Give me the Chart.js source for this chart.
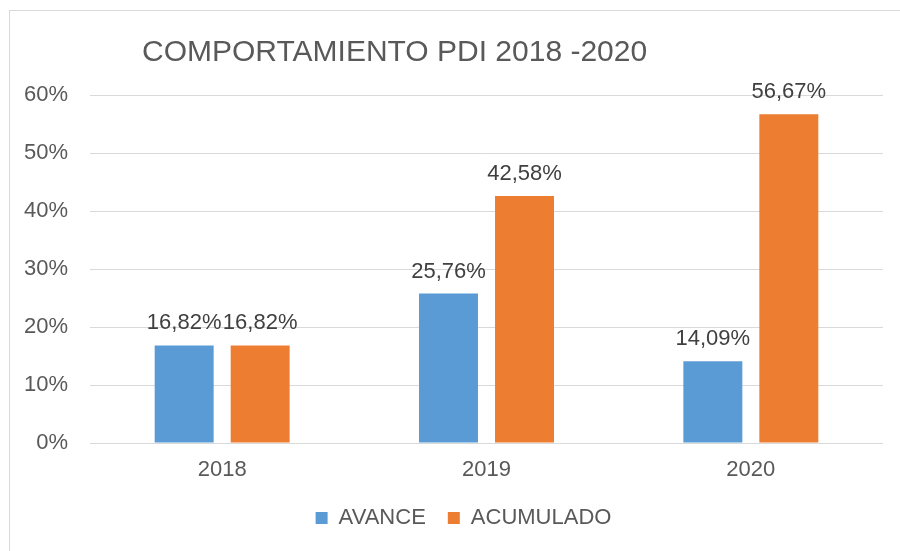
<!DOCTYPE html>
<html>
<head>
<meta charset="utf-8">
<script src="https://cdn.jsdelivr.net/npm/chart.js@4/dist/chart.umd.min.js"></script>
<style>
  html, body { margin: 0; padding: 0; background: #fff; overflow: hidden; }
  canvas { display: block; }
</style>
</head>
<body>
<canvas id="c" width="900" height="551"></canvas>
<script>
const categories = ['2018', '2019', '2020'];
const avance = [16.82, 25.76, 14.09];
const acumulado = [16.82, 42.58, 56.67];
const seriesNames = ['AVANCE', 'ACUMULADO'];
const titleText = 'COMPORTAMIENTO PDI 2018 -2020';
const yTicks = [0, 10, 20, 30, 40, 50, 60];

const FONT = "Arial, 'Liberation Sans', sans-serif";
const TEXT = '#595959';

const framePlugin = {
  id: 'frame',
  afterLayout(chart) {
    // shift the legend's box so it is centred like the original
    if (chart.legend) {
      chart.legend.left = 44;
      chart.legend.width = chart.legend.right - chart.legend.left;
    }
  },
  beforeDraw(chart) {
    const ctx = chart.ctx;
    ctx.save();
    ctx.fillStyle = '#ffffff';
    ctx.fillRect(0, 0, chart.width, chart.height);
    ctx.strokeStyle = '#d9d9d9';
    ctx.lineWidth = 1;
    ctx.strokeRect(9.5, 10.5, 1000, 1000);
    ctx.restore();
  },
  afterDraw(chart) {
    const ctx = chart.ctx;
    ctx.save();
    ctx.font = '30px ' + FONT;
    ctx.fillStyle = TEXT;
    ctx.textAlign = 'left';
    ctx.textBaseline = 'alphabetic';
    ctx.fillText(titleText, 142, 61);
    ctx.restore();
  }
};

const labelPlugin = {
  id: 'barLabels',
  afterDatasetsDraw(chart) {
    const ctx = chart.ctx;
    ctx.save();
    ctx.font = '22px ' + FONT;
    ctx.fillStyle = '#404040';
    ctx.textAlign = 'center';
    ctx.textBaseline = 'alphabetic';
    chart.data.datasets.forEach((ds, di) => {
      const meta = chart.getDatasetMeta(di);
      meta.data.forEach((bar, i) => {
        const txt = ds.data[i].toFixed(2).replace('.', ',') + '%';
        ctx.fillText(txt, bar.x, bar.y - 16);
      });
    });
    ctx.restore();
  }
};

new Chart(document.getElementById('c'), {
  type: 'bar',
  data: {
    labels: categories,
    datasets: [
      { label: seriesNames[0], data: avance, backgroundColor: '#5B9BD5', categoryPercentage: 0.575, barPercentage: 0.776 },
      { label: seriesNames[1], data: acumulado, backgroundColor: '#ED7D31', categoryPercentage: 0.575, barPercentage: 0.776 }
    ]
  },
  options: {
    responsive: false,
    animation: false,
    devicePixelRatio: 1,
    layout: { padding: { top: 95, right: 17, bottom: 12, left: 0 } },
    plugins: {
      title: { display: false },
      tooltip: { enabled: false },
      legend: {
        position: 'bottom',
        labels: {
          boxWidth: 12,
          boxHeight: 12,
          padding: 22,
          color: TEXT,
          font: { family: FONT, size: 22 }
        }
      }
    },
    scales: {
      x: {
        grid: { display: false, drawTicks: false },
        border: { display: false },
        ticks: { color: TEXT, font: { family: FONT, size: 22 }, padding: 14 },
        afterFit(scale) { scale.height = 42; }
      },
      y: {
        min: 0,
        max: 60,
        afterBuildTicks(scale) { scale.ticks = yTicks.map(v => ({ value: v })); },
        grid: { color: '#d9d9d9', lineWidth: 1, drawTicks: false },
        border: { display: false },
        ticks: {
          color: TEXT,
          font: { family: FONT, size: 22 },
          padding: 22,
          callback: v => v + '%'
        },
        afterFit(scale) { scale.width = 90; }
      }
    }
  },
  plugins: [framePlugin, labelPlugin]
});
</script>
</body>
</html>
